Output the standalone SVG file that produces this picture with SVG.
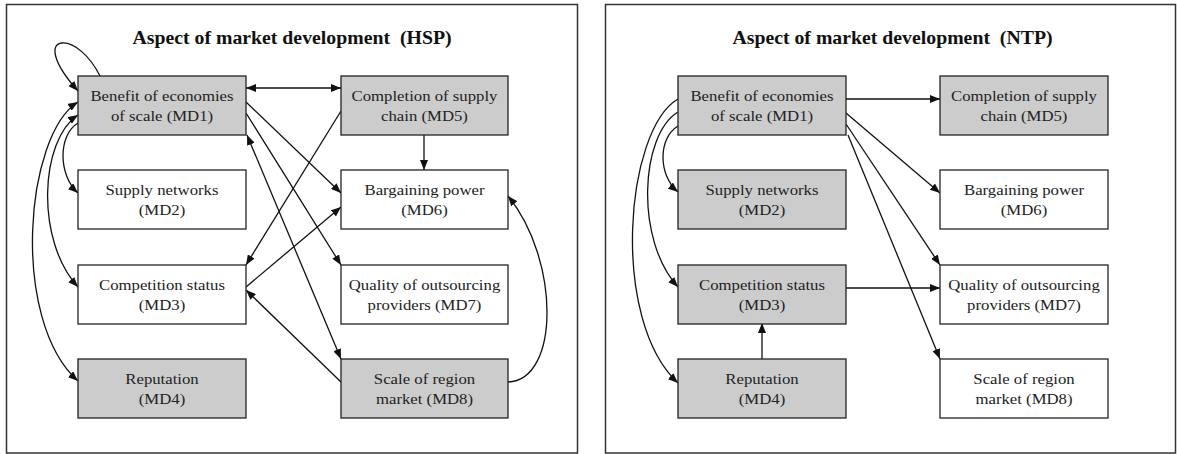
<svg xmlns="http://www.w3.org/2000/svg" width="1177" height="454" viewBox="0 0 1177 454">
  <style>
    .frame { fill: #ffffff; stroke: #333333; stroke-width: 1.5; }
    .node rect { stroke: #222222; stroke-width: 1.3; }
    .gray rect { fill: #cccccc; }
    .white rect { fill: #ffffff; }
    .node text { font-family: "Liberation Serif", "Times New Roman", serif; font-size: 15.5px; fill: #222222; text-anchor: middle; }
    .title { font-family: "Liberation Serif", "Times New Roman", serif; font-size: 18.5px; font-weight: bold; fill: #111111; text-anchor: middle; }
    .edges path { fill: none; stroke: #111111; stroke-width: 1.3; }
    .one { marker-end: url(#ah); }
    .two { marker-start: url(#ah); marker-end: url(#ah); }
  </style>
  <defs>
    <marker id="ah" viewBox="0 0 10 8" refX="10" refY="4" markerWidth="10" markerHeight="8" markerUnits="userSpaceOnUse" orient="auto-start-reverse">
      <path d="M0,0 L10,4 L0,8 z" fill="#111111"/>
    </marker>
  </defs>

  <!-- panel frames -->
  <rect class="frame" x="6.5" y="4.5" width="571" height="448.5"/>
  <rect class="frame" x="605.5" y="4.5" width="570" height="448.5"/>

  <!-- HSP panel -->
  <text class="title" transform="translate(292 43.5) scale(1.07 1)" xml:space="preserve">Aspect of market development  (HSP)</text>

  <g class="edges" id="hsp-connectors">
    <path class="one" d="M100,76 C90,56 74,42 62,43 C50,44 52,62 78,91"/>
    <path class="two" d="M246,88 L341,88"/>
    <path class="one" d="M78,123 C58,135 58,175 78,193"/>
    <path class="two" d="M78,115 C40,140 35,240 78,287"/>
    <path class="two" d="M78,102 C25,135 10,320 78,381"/>
    <path class="one" d="M246,102 L341,193"/>
    <path class="one" d="M246,113 L341,265"/>
    <path class="two" d="M247,135 L341,359"/>
    <path class="one" d="M341,111 L246,265"/>
    <path class="one" d="M246,287 L341,207"/>
    <path class="one" d="M424,135 L424,170"/>
    <path class="one" d="M341,382 L246,290"/>
    <path class="one" d="M508,382 C560,380 560,260 508,196"/>
  </g>

  <g id="hsp-md1" class="node gray">
    <rect x="78" y="76" width="168" height="59"/>
    <text transform="translate(162 105.5) scale(1.08 1)"><tspan x="0" y="-5">Benefit of economies</tspan><tspan x="0" y="15.5">of scale (MD1)</tspan></text>
  </g>
  <g id="hsp-md5" class="node gray">
    <rect x="341" y="76" width="167" height="59"/>
    <text transform="translate(424.5 105.5) scale(1.08 1)"><tspan x="0" y="-5">Completion of supply</tspan><tspan x="0" y="15.5">chain (MD5)</tspan></text>
  </g>
  <g id="hsp-md2" class="node white">
    <rect x="78" y="170" width="168" height="59"/>
    <text transform="translate(162 199.5) scale(1.08 1)"><tspan x="0" y="-5">Supply networks</tspan><tspan x="0" y="15.5">(MD2)</tspan></text>
  </g>
  <g id="hsp-md6" class="node white">
    <rect x="341" y="170" width="167" height="59"/>
    <text transform="translate(424.5 199.5) scale(1.08 1)"><tspan x="0" y="-5">Bargaining power</tspan><tspan x="0" y="15.5">(MD6)</tspan></text>
  </g>
  <g id="hsp-md3" class="node white">
    <rect x="78" y="265" width="168" height="59"/>
    <text transform="translate(162 294.5) scale(1.08 1)"><tspan x="0" y="-5">Competition status</tspan><tspan x="0" y="15.5">(MD3)</tspan></text>
  </g>
  <g id="hsp-md7" class="node white">
    <rect x="341" y="265" width="167" height="59"/>
    <text transform="translate(424.5 294.5) scale(1.08 1)"><tspan x="0" y="-5">Quality of outsourcing</tspan><tspan x="0" y="15.5">providers (MD7)</tspan></text>
  </g>
  <g id="hsp-md4" class="node gray">
    <rect x="78" y="359" width="168" height="59"/>
    <text transform="translate(162 388.5) scale(1.08 1)"><tspan x="0" y="-5">Reputation</tspan><tspan x="0" y="15.5">(MD4)</tspan></text>
  </g>
  <g id="hsp-md8" class="node gray">
    <rect x="341" y="359" width="167" height="59"/>
    <text transform="translate(424.5 388.5) scale(1.08 1)"><tspan x="0" y="-5">Scale of region</tspan><tspan x="0" y="15.5">market (MD8)</tspan></text>
  </g>

  <!-- NTP panel -->
  <text class="title" transform="translate(892.5 43.5) scale(1.07 1)" xml:space="preserve">Aspect of market development  (NTP)</text>

  <g class="edges" id="ntp-connectors">
    <path class="one" d="M846,99 L940,99"/>
    <path class="one" d="M846,113 L940,193"/>
    <path class="one" d="M846,124 L940,265"/>
    <path class="one" d="M848,135 L940,359"/>
    <path class="one" d="M846,288 L940,288"/>
    <path class="one" d="M762,359 L762,323"/>
    <path class="one" d="M678,126 C658,138 658,175 678,192"/>
    <path class="one" d="M678,112 C640,135 635,240 678,287"/>
    <path class="one" d="M678,99 C625,130 610,320 678,383"/>
  </g>

  <g id="ntp-md1" class="node gray">
    <rect x="678" y="76" width="168" height="59"/>
    <text transform="translate(762 105.5) scale(1.08 1)"><tspan x="0" y="-5">Benefit of economies</tspan><tspan x="0" y="15.5">of scale (MD1)</tspan></text>
  </g>
  <g id="ntp-md5" class="node gray">
    <rect x="940" y="76" width="168" height="59"/>
    <text transform="translate(1024 105.5) scale(1.08 1)"><tspan x="0" y="-5">Completion of supply</tspan><tspan x="0" y="15.5">chain (MD5)</tspan></text>
  </g>
  <g id="ntp-md2" class="node gray">
    <rect x="678" y="170" width="168" height="59"/>
    <text transform="translate(762 199.5) scale(1.08 1)"><tspan x="0" y="-5">Supply networks</tspan><tspan x="0" y="15.5">(MD2)</tspan></text>
  </g>
  <g id="ntp-md6" class="node white">
    <rect x="940" y="170" width="168" height="59"/>
    <text transform="translate(1024 199.5) scale(1.08 1)"><tspan x="0" y="-5">Bargaining power</tspan><tspan x="0" y="15.5">(MD6)</tspan></text>
  </g>
  <g id="ntp-md3" class="node gray">
    <rect x="678" y="265" width="168" height="59"/>
    <text transform="translate(762 294.5) scale(1.08 1)"><tspan x="0" y="-5">Competition status</tspan><tspan x="0" y="15.5">(MD3)</tspan></text>
  </g>
  <g id="ntp-md7" class="node white">
    <rect x="940" y="265" width="168" height="59"/>
    <text transform="translate(1024 294.5) scale(1.08 1)"><tspan x="0" y="-5">Quality of outsourcing</tspan><tspan x="0" y="15.5">providers (MD7)</tspan></text>
  </g>
  <g id="ntp-md4" class="node gray">
    <rect x="678" y="359" width="168" height="59"/>
    <text transform="translate(762 388.5) scale(1.08 1)"><tspan x="0" y="-5">Reputation</tspan><tspan x="0" y="15.5">(MD4)</tspan></text>
  </g>
  <g id="ntp-md8" class="node white">
    <rect x="940" y="359" width="168" height="59"/>
    <text transform="translate(1024 388.5) scale(1.08 1)"><tspan x="0" y="-5">Scale of region</tspan><tspan x="0" y="15.5">market (MD8)</tspan></text>
  </g>
</svg>
